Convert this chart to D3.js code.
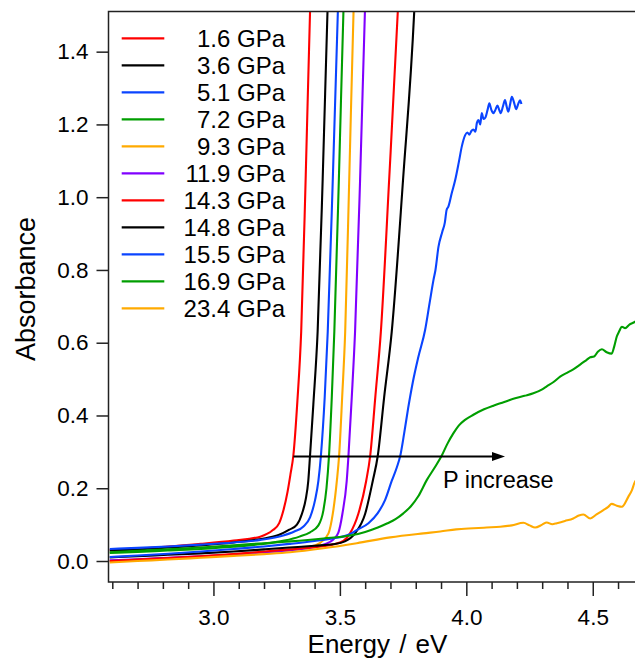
<!DOCTYPE html>
<html>
<head>
<meta charset="utf-8">
<script src="https://cdn.jsdelivr.net/npm/d3@7"></script>
<style>
  html, body { margin: 0; padding: 0; background: #fff; }
  svg { display: block; }
  text { font-family: "Liberation Sans", Arial, Helvetica, sans-serif; fill: #000; }
</style>
</head>
<body>
<svg id="chart" width="635" height="659"></svg>
<script>
// ---------- data (energy eV, absorbance) ----------
const s1_6 = [[2.59,0.030],[2.70,0.034],[2.82,0.040],[2.95,0.047],[3.08,0.056],[3.185,0.067],[3.235,0.085],[3.26,0.104],[3.277,0.14],[3.293,0.19],[3.305,0.24],[3.316,0.29],[3.332,0.44],[3.347,0.63],[3.365,1.06],[3.382,1.51],[3.386,1.60]];
const s3_6 = [[2.59,0.029],[2.70,0.032],[2.82,0.037],[2.95,0.043],[3.08,0.051],[3.20,0.062],[3.26,0.072],[3.30,0.086],[3.33,0.10],[3.35,0.13],[3.365,0.17],[3.375,0.22],[3.382,0.29],[3.395,0.43],[3.412,0.63],[3.432,1.05],[3.451,1.51],[3.455,1.60]];
const s5_1 = [[2.59,0.033],[2.70,0.036],[2.82,0.040],[2.95,0.045],[3.08,0.051],[3.185,0.058],[3.276,0.070],[3.32,0.081],[3.356,0.095],[3.382,0.12],[3.402,0.168],[3.415,0.22],[3.425,0.29],[3.44,0.45],[3.452,0.63],[3.472,1.05],[3.492,1.51],[3.496,1.60]];
const s7_2 = [[2.59,0.022],[2.70,0.025],[2.82,0.029],[2.95,0.033],[3.08,0.039],[3.185,0.046],[3.28,0.056],[3.34,0.067],[3.382,0.079],[3.415,0.098],[3.435,0.14],[3.447,0.20],[3.457,0.29],[3.468,0.45],[3.478,0.63],[3.496,1.05],[3.514,1.51],[3.518,1.60]];
const s9_3 = [[2.59,0.000],[2.70,0.003],[2.82,0.007],[2.95,0.012],[3.08,0.018],[3.20,0.024],[3.30,0.030],[3.37,0.037],[3.422,0.050],[3.455,0.076],[3.472,0.13],[3.488,0.22],[3.497,0.29],[3.509,0.45],[3.521,0.63],[3.537,1.05],[3.554,1.51],[3.558,1.60]];
const s11_9 = [[2.59,0.002],[2.70,0.005],[2.82,0.009],[2.95,0.013],[3.08,0.018],[3.20,0.024],[3.30,0.030],[3.38,0.036],[3.44,0.046],[3.475,0.060],[3.494,0.078],[3.51,0.13],[3.527,0.22],[3.534,0.29],[3.547,0.45],[3.560,0.63],[3.580,1.05],[3.599,1.51],[3.603,1.60]];
const s14_3 = [[2.59,0.000],[2.70,0.004],[2.82,0.008],[2.95,0.013],[3.08,0.019],[3.20,0.026],[3.30,0.032],[3.40,0.038],[3.47,0.045],[3.514,0.055],[3.54,0.076],[3.573,0.13],[3.604,0.22],[3.620,0.29],[3.640,0.45],[3.662,0.63],[3.695,1.05],[3.729,1.51],[3.735,1.60]];
const s14_8 = [[2.59,0.010],[2.70,0.013],[2.82,0.017],[2.95,0.021],[3.08,0.026],[3.20,0.032],[3.30,0.037],[3.40,0.042],[3.473,0.046],[3.52,0.054],[3.56,0.076],[3.60,0.13],[3.63,0.22],[3.650,0.29],[3.675,0.45],[3.705,0.63],[3.750,1.05],[3.794,1.51],[3.800,1.60]];
const s15_5 = [[2.59,0.011],[2.70,0.015],[2.82,0.020],[2.95,0.026],[3.08,0.033],[3.20,0.040],[3.30,0.047],[3.40,0.055],[3.47,0.062],[3.534,0.072],[3.567,0.085],[3.613,0.104],[3.649,0.131],[3.679,0.168],[3.705,0.220],[3.725,0.257],[3.739,0.29],[3.754,0.35],[3.770,0.42],[3.788,0.49],[3.810,0.56],[3.837,0.635],[3.855,0.71],[3.870,0.772],[3.878,0.80],[3.890,0.864],[3.905,0.905],[3.915,0.93],[3.922,0.965],[3.929,0.974],[3.942,1.01],[3.956,1.047],[3.970,1.095],[3.982,1.139],[3.995,1.170],[4.004,1.178],[4.012,1.172],[4.020,1.182],[4.028,1.186],[4.036,1.180],[4.042,1.205],[4.048,1.212],[4.055,1.200],[4.061,1.231],[4.068,1.215],[4.076,1.220],[4.084,1.240],[4.091,1.258],[4.099,1.240],[4.107,1.231],[4.115,1.240],[4.123,1.252],[4.130,1.240],[4.136,1.231],[4.145,1.250],[4.153,1.267],[4.160,1.248],[4.166,1.235],[4.173,1.255],[4.180,1.276],[4.188,1.262],[4.197,1.242],[4.206,1.258],[4.212,1.266],[4.218,1.256]];
const s16_9 = [[2.59,0.024],[2.70,0.028],[2.82,0.032],[2.95,0.037],[3.08,0.043],[3.20,0.049],[3.303,0.054],[3.435,0.062],[3.54,0.070],[3.60,0.080],[3.65,0.092],[3.686,0.103],[3.72,0.115],[3.751,0.131],[3.78,0.150],[3.81,0.178],[3.844,0.223],[3.875,0.257],[3.903,0.29],[3.925,0.322],[3.948,0.350],[3.97,0.372],[3.995,0.388],[4.028,0.402],[4.07,0.417],[4.107,0.427],[4.15,0.437],[4.186,0.446],[4.23,0.454],[4.265,0.461],[4.30,0.472],[4.318,0.480],[4.345,0.492],[4.371,0.507],[4.40,0.518],[4.423,0.527],[4.45,0.540],[4.476,0.553],[4.49,0.560],[4.505,0.562],[4.52,0.575],[4.536,0.582],[4.555,0.574],[4.575,0.570],[4.585,0.590],[4.595,0.617],[4.605,0.632],[4.615,0.644],[4.628,0.640],[4.645,0.650],[4.660,0.655],[4.672,0.660]];
const s23_4 = [[2.59,-0.004],[2.70,0.000],[2.82,0.004],[2.95,0.009],[3.08,0.014],[3.20,0.019],[3.303,0.024],[3.435,0.035],[3.567,0.049],[3.699,0.065],[3.83,0.076],[3.897,0.081],[3.96,0.087],[4.028,0.090],[4.08,0.092],[4.134,0.094],[4.18,0.098],[4.226,0.105],[4.25,0.098],[4.272,0.092],[4.30,0.100],[4.318,0.106],[4.34,0.101],[4.358,0.104],[4.39,0.110],[4.423,0.117],[4.445,0.125],[4.463,0.128],[4.49,0.117],[4.515,0.128],[4.542,0.140],[4.56,0.148],[4.575,0.157],[4.595,0.152],[4.615,0.149],[4.641,0.177],[4.655,0.195],[4.667,0.218],[4.672,0.222]];

const seriesData = [s1_6, s3_6, s5_1, s7_2, s9_3, s11_9, s14_3, s14_8, s15_5, s16_9, s23_4];
const seriesLabels = ["1.6 GPa","3.6 GPa","5.1 GPa","7.2 GPa","9.3 GPa","11.9 GPa","14.3 GPa","14.8 GPa","15.5 GPa","16.9 GPa","23.4 GPa"];
const seriesColors = ["#ff0000","#000000","#0a44ff","#009e00","#ffaa00","#8000ff","#ff0000","#000000","#0a44ff","#009e00","#ffaa00"];

const xMajorTicks = [3.0, 3.5, 4.0, 4.5];
const xMinorTicks = [2.6,2.7,2.8,2.9,3.1,3.2,3.3,3.4,3.6,3.7,3.8,3.9,4.1,4.2,4.3,4.4,4.6];
const yTicks = [0.0,0.2,0.4,0.6,0.8,1.0,1.2,1.4];

const arrowFrom = 3.316, arrowTo = 4.153, arrowLevel = 0.287;
const annotation = {text: "P increase", e: 3.908, a: 0.200};

// ---------- layout ----------
const svg = d3.select("#chart");
const L = 108.5, R = 636, T = 11.5, B = 582;
const x = d3.scaleLinear().domain([2.585, 4.671]).range([L, R]);
const y = d3.scaleLinear().domain([-0.0577, 1.5104]).range([B, T]);
const axisColor = "#222";

svg.append("defs").append("clipPath").attr("id", "plotclip")
  .append("rect").attr("x", L).attr("y", T).attr("width", R - L).attr("height", B - T);

// curves
const line = d3.line().x(d => x(d[0])).y(d => y(d[1])).curve(d3.curveMonotoneX);
const plot = svg.append("g").attr("clip-path", "url(#plotclip)");
seriesData.forEach((s, i) => {
  plot.append("path").datum(s)
    .attr("d", line)
    .attr("fill", "none")
    .attr("stroke", seriesColors[i])
    .attr("stroke-width", 2.1)
    .attr("stroke-linejoin", "round");
});

// arrow
const ay = y(arrowLevel);
svg.append("line")
  .attr("x1", x(arrowFrom)).attr("x2", x(arrowTo) - 10)
  .attr("y1", ay).attr("y2", ay)
  .attr("stroke", "#000").attr("stroke-width", 2);
svg.append("path")
  .attr("d", `M${x(arrowTo)},${ay} L${x(arrowTo) - 13},${ay - 4.5} L${x(arrowTo) - 13},${ay + 4.5} Z`)
  .attr("fill", "#000");
svg.append("text")
  .attr("x", x(annotation.e)).attr("y", y(annotation.a))
  .attr("font-size", 23.5)
  .text(annotation.text);

// axes
const xAxisMajor = d3.axisBottom(x).tickValues(xMajorTicks).tickSize(14).tickPadding(12)
  .tickFormat(d3.format(".1f"));
const xAxisMinor = d3.axisBottom(x).tickValues(xMinorTicks).tickSize(7).tickFormat("");
const gxm = svg.append("g").attr("transform", `translate(0,${B})`).call(xAxisMinor);
const gx = svg.append("g").attr("transform", `translate(0,${B})`).call(xAxisMajor);
const yAxis = d3.axisLeft(y).tickValues(yTicks).tickSize(12).tickPadding(8)
  .tickFormat(d3.format(".1f"));
const gy = svg.append("g").attr("transform", `translate(${L},0)`).call(yAxis);

[gx, gxm, gy].forEach(g => {
  g.select(".domain").remove();
  g.selectAll(".tick line").attr("stroke", axisColor).attr("stroke-width", 1.5);
  g.selectAll(".tick text")
    .attr("font-family", "'Liberation Sans', Arial, sans-serif")
    .attr("font-size", 22.5).attr("fill", "#000");
});
gx.selectAll(".tick text").attr("dy", null).attr("y", 624.5 - B);

// frame
svg.append("rect")
  .attr("x", L).attr("y", T).attr("width", R - L + 5).attr("height", B - T)
  .attr("fill", "none").attr("stroke", axisColor).attr("stroke-width", 1.5);

// axis titles
svg.append("text")
  .attr("x", 377.5).attr("y", 653)
  .attr("text-anchor", "middle")
  .attr("font-size", 26)
  .attr("word-spacing", 2)
  .text("Energy / eV");
svg.append("text")
  .attr("transform", "translate(35,289) rotate(-90)")
  .attr("text-anchor", "middle")
  .attr("font-size", 27)
  .text("Absorbance");

// legend
const legend = svg.append("g");
seriesLabels.forEach((lab, i) => {
  const ly = 38.3 + 27 * i;
  legend.append("line")
    .attr("x1", 121.7).attr("x2", 164.3).attr("y1", ly).attr("y2", ly)
    .attr("stroke", seriesColors[i]).attr("stroke-width", 2.2);
  legend.append("text")
    .attr("x", 285).attr("y", ly + 8.3)
    .attr("text-anchor", "end")
    .attr("font-size", 24)
    .text(lab);
});
</script>
</body>
</html>
